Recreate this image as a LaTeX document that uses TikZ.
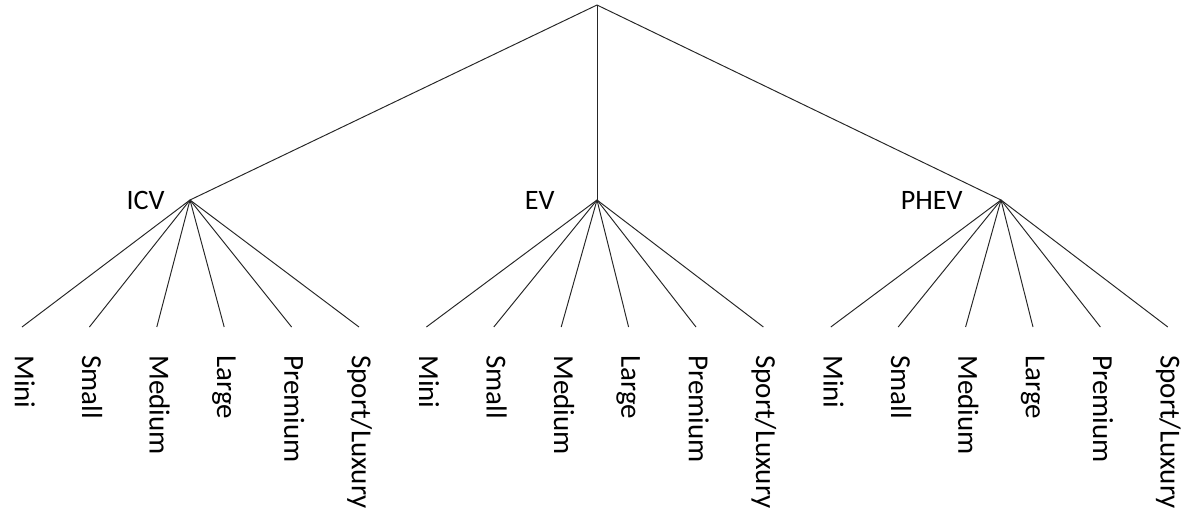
\documentclass[tikz,border=0pt]{standalone}
\usepackage{fontspec}
\setmainfont{Carlito}

\begin{document}
\begin{tikzpicture}[x=0.02cm, y=-0.02cm,
	link/.style={line width=0.55pt, color=black!85},
	grouplbl/.style={anchor=base east, inner sep=0pt, font=\fontsize{16}{19}\selectfont},
	sizelbl/.style={rotate=-90, anchor=mid west, inner sep=0pt, font=\fontsize{16.5}{19}\selectfont}]
	\useasboundingbox (0,0) rectangle (1188,510);
	% root and the three powertrain groups
	\coordinate (root) at (597,5);
	\coordinate (icv) at (190,200);
	\coordinate (ev) at (597,200);
	\coordinate (phev) at (1001,200);
	\node[grouplbl] (icv-lbl) at (165,210) {ICV};
	\node[grouplbl] (ev-lbl) at (555,210) {EV};
	\node[grouplbl] (phev-lbl) at (963,210) {PHEV};
	% vehicle sizes under each group
	\foreach \grp [count=\g from 0] in {icv,ev,phev} {
		\draw[link] (root) -- (\grp);
		\foreach \size [count=\j from 0] in {Mini,Small,Medium,Large,Premium,{Sport/Luxury}} {
			\pgfmathsetmacro\lx{22+67.4*(6*\g+\j)}
			\coordinate (\grp-\j) at (\lx,327);
			\node[sizelbl] (\grp-\j-lbl) at (\lx-3,355) {\size};
			\draw[link] (\grp) -- (\grp-\j);
		}
	}
\end{tikzpicture}
\end{document}
